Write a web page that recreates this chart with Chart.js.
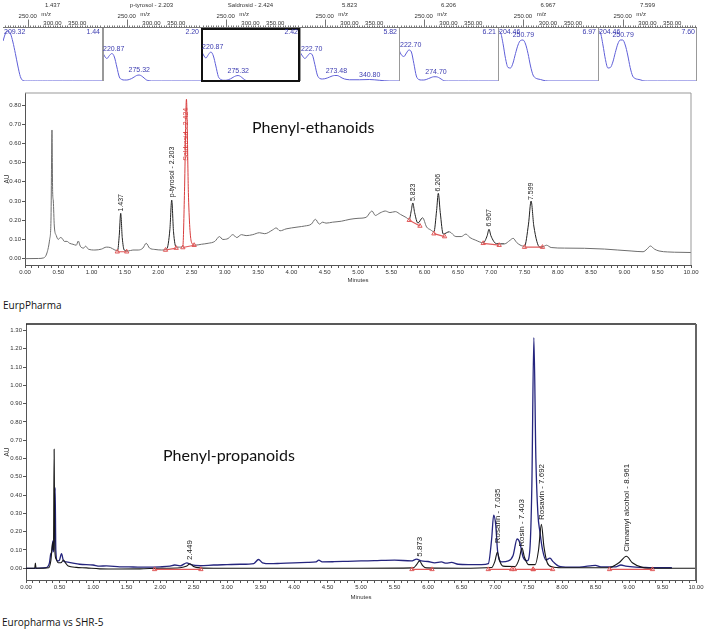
<!DOCTYPE html>
<html>
<head>
<meta charset="utf-8">
<script src="https://cdn.jsdelivr.net/npm/chart.js@4.4.1/dist/chart.umd.min.js"></script>
<style>
  body { margin: 0; background: #fff; width: 706px; height: 633px; position: relative; overflow: hidden; }
  canvas { position: absolute; }
  .txt { position: absolute; white-space: nowrap; color: #111; line-height: 1; }
  .title { font-family: Lato, "Open Sans", sans-serif; font-size: 16px; }
  .caption { font-family: "Open Sans", Lato, sans-serif; font-size: 10px; }
</style>
</head>
<body>
<canvas id="eth" width="706" height="205" style="left:0;top:85px"></canvas>
<canvas id="pro" width="706" height="290" style="left:0;top:315px"></canvas>
<div class="txt title" style="left:252px;top:119px">Phenyl-ethanoids</div>
<div class="txt caption" style="left:3px;top:300px">EurpPharma</div>
<div class="txt title" style="left:163px;top:447px">Phenyl-propanoids</div>
<div class="txt caption" style="left:2px;top:617px">Europharma vs SHR-5</div>
<script>
var narrow = '"Liberation Sans Narrow", "Liberation Sans", Arial, sans-serif';

// UV spectra strip
var specNames = ['1.437', 'p-tyrosol - 2.203', 'Saldrosid - 2.424', '5.823', '6.206', '6.967', '7.599'];
var specRt = ['1.44', '2.20', '2.42', '5.82', '6.21', '6.97', '7.60'];
var specNm = [200, 205, 210, 215, 220, 225, 230, 235, 240, 245, 250, 255, 260, 265, 270, 275, 280, 285, 290, 295, 300, 320, 340, 360, 380, 400];
var spec1 = [0.80, 0.95, 1.00, 0.95, 0.78, 0.55, 0.30, 0.09, 0.01, 0, 0, 0, 0, 0, 0, 0, 0, 0, 0, 0, 0, 0, 0, 0, 0, 0];
var spec2 = [0.60, 0.50, 0.45, 0.51, 0.55, 0.48, 0.28, 0.08, 0.03, 0.02, 0.02, 0.03, 0.05, 0.08, 0.11, 0.12, 0.10, 0.06, 0.02, 0.005, 0, 0, 0, 0, 0, 0];
var spec3 = [0.62, 0.52, 0.46, 0.53, 0.58, 0.50, 0.30, 0.09, 0.03, 0.015, 0.015, 0.025, 0.045, 0.075, 0.10, 0.11, 0.09, 0.05, 0.015, 0, 0, 0, 0, 0, 0, 0];
var spec4 = [0.58, 0.50, 0.45, 0.50, 0.55, 0.52, 0.33, 0.12, 0.05, 0.04, 0.045, 0.06, 0.08, 0.10, 0.11, 0.11, 0.09, 0.06, 0.04, 0.03, 0.025, 0.025, 0.03, 0.015, 0, 0];
var spec5 = [0.62, 0.52, 0.49, 0.56, 0.62, 0.58, 0.35, 0.10, 0.03, 0.02, 0.02, 0.03, 0.05, 0.07, 0.085, 0.085, 0.07, 0.04, 0.01, 0, 0, 0, 0, 0, 0, 0];
var spec6 = [1.00, 0.97, 0.75, 0.45, 0.27, 0.26, 0.36, 0.55, 0.72, 0.81, 0.82, 0.74, 0.55, 0.30, 0.12, 0.06, 0.04, 0.03, 0.015, 0.005, 0, 0, 0, 0, 0, 0];
var spec7 = [1.00, 0.96, 0.72, 0.43, 0.26, 0.27, 0.38, 0.57, 0.74, 0.82, 0.82, 0.72, 0.52, 0.27, 0.10, 0.05, 0.035, 0.025, 0.01, 0, 0, 0, 0, 0, 0, 0];
var specPeakNm = [[209.32], [220.87, 275.32], [220.87, 275.32], [222.70, 273.48, 340.80], [222.70, 274.70], [204.46, 250.79], [204.46, 250.79]];
var specPeakAbs = [[1.0], [0.55, 0.12], [0.58, 0.11], [0.55, 0.11, 0.03], [0.62, 0.085], [0.98, 0.82], [0.98, 0.82]];
var specTicks = [250, 300, 350];

// Phenyl-ethanoids chromatogram
var ethTime = [0.00, 0.20, 0.28, 0.33, 0.37, 0.39, 0.405, 0.415, 0.425, 0.44, 0.47, 0.50, 0.53, 0.56, 0.59, 0.63, 0.67, 0.72, 0.77, 0.80, 0.83, 0.88, 0.91, 0.95, 1.05, 1.15, 1.22, 1.28, 1.35, 1.39, 1.415, 1.437, 1.46, 1.49, 1.55, 1.62, 1.70, 1.77, 1.82, 1.87, 1.95, 2.05, 2.13, 2.175, 2.203, 2.23, 2.27, 2.32, 2.37, 2.395, 2.424, 2.455, 2.50, 2.55, 2.65, 2.75, 2.85, 2.92, 2.97, 3.05, 3.12, 3.18, 3.25, 3.32, 3.42, 3.52, 3.60, 3.72, 3.77, 3.83, 3.92, 4.00, 4.10, 4.20, 4.30, 4.36, 4.42, 4.47, 4.52, 4.62, 4.75, 4.88, 5.00, 5.12, 5.21, 5.26, 5.33, 5.41, 5.48, 5.56, 5.64, 5.72, 5.77, 5.80, 5.823, 5.85, 5.90, 5.97, 6.03, 6.09, 6.14, 6.18, 6.206, 6.235, 6.28, 6.37, 6.47, 6.55, 6.62, 6.68, 6.76, 6.88, 6.94, 6.967, 6.995, 7.08, 7.20, 7.28, 7.33, 7.38, 7.45, 7.50, 7.56, 7.599, 7.64, 7.73, 7.78, 7.83, 7.90, 8.10, 8.40, 8.70, 8.90, 9.10, 9.28, 9.34, 9.39, 9.45, 9.52, 9.65, 9.85, 10.00];
var ethAU = [0.000, 0.001, 0.004, 0.03, 0.10, 0.20, 0.67, 0.35, 0.30, 0.17, 0.12, 0.10, 0.11, 0.105, 0.09, 0.09, 0.08, 0.075, 0.07, 0.092, 0.065, 0.055, 0.065, 0.05, 0.045, 0.05, 0.06, 0.058, 0.045, 0.042, 0.12, 0.236, 0.11, 0.045, 0.04, 0.045, 0.045, 0.055, 0.08, 0.055, 0.048, 0.045, 0.052, 0.15, 0.305, 0.14, 0.06, 0.06, 0.065, 0.35, 0.83, 0.32, 0.085, 0.07, 0.075, 0.08, 0.09, 0.115, 0.10, 0.105, 0.125, 0.11, 0.125, 0.12, 0.125, 0.135, 0.13, 0.15, 0.16, 0.145, 0.155, 0.16, 0.165, 0.17, 0.18, 0.205, 0.18, 0.19, 0.185, 0.19, 0.195, 0.205, 0.21, 0.215, 0.248, 0.225, 0.238, 0.248, 0.24, 0.245, 0.23, 0.215, 0.205, 0.25, 0.29, 0.24, 0.185, 0.213, 0.165, 0.15, 0.14, 0.25, 0.34, 0.24, 0.128, 0.14, 0.115, 0.115, 0.128, 0.11, 0.097, 0.083, 0.12, 0.153, 0.12, 0.078, 0.077, 0.095, 0.106, 0.085, 0.068, 0.065, 0.18, 0.30, 0.17, 0.06, 0.062, 0.07, 0.058, 0.055, 0.054, 0.05, 0.045, 0.04, 0.036, 0.05, 0.066, 0.05, 0.04, 0.035, 0.033, 0.032];
var ethBaseStart = [1.386, 2.11, 2.37, 5.77, 6.14, 6.88, 7.50];
var ethBaseEnd = [1.527, 2.27, 2.54, 5.93, 6.30, 7.12, 7.77];
var ethBaseStartAU = [0.036, 0.045, 0.058, 0.20, 0.13, 0.08, 0.06];
var ethBaseEndAU = [0.036, 0.055, 0.07, 0.17, 0.115, 0.07, 0.06];
var ethPeakTime = [1.437, 2.203, 2.424, 5.823, 6.206, 6.967, 7.599];
var ethPeakNames = ['1.437', 'p-tyrosol - 2.203', 'Saldrosid - 2.424', '5.823', '6.206', '6.967', '7.599'];
var ethLabelAU = [0.245, 0.32, 0.51, 0.30, 0.35, 0.167, 0.305];
var ethPeakColors = ['#222', '#222', '#d83c3c', '#222', '#222', '#222', '#222'];
var ethAUTicks = [0, 0.1, 0.2, 0.3, 0.4, 0.5, 0.6, 0.7, 0.8];

// Phenyl-propanoids overlay
var shrTime = [0.00, 0.30, 0.35, 0.37, 0.385, 0.40, 0.41, 0.425, 0.435, 0.445, 0.47, 0.50, 0.53, 0.56, 0.60, 0.70, 0.80, 1.00, 1.10, 1.20, 1.40, 1.60, 1.80, 2.00, 2.15, 2.22, 2.30, 2.40, 2.46, 2.60, 2.80, 3.00, 3.20, 3.40, 3.47, 3.53, 3.65, 3.80, 4.00, 4.20, 4.33, 4.37, 4.42, 4.60, 4.80, 5.00, 5.20, 5.50, 5.75, 5.83, 5.90, 6.00, 6.10, 6.20, 6.27, 6.35, 6.45, 6.60, 6.80, 6.90, 6.95, 6.98, 7.01, 7.04, 7.10, 7.20, 7.27, 7.33, 7.37, 7.42, 7.48, 7.52, 7.55, 7.58, 7.61, 7.64, 7.67, 7.71, 7.76, 7.82, 7.87, 7.95, 8.10, 8.30, 8.45, 8.50, 8.58, 8.80, 8.88, 8.95, 9.10, 9.30, 9.50, 9.64];
var shrAU = [0.000, 0.004, 0.03, 0.08, 0.09, 0.15, 0.09, 0.20, 0.44, 0.10, 0.04, 0.045, 0.08, 0.04, 0.035, 0.028, 0.022, 0.018, 0.012, 0.013, 0.008, 0.007, 0.006, 0.008, 0.012, 0.018, 0.013, 0.03, 0.02, 0.014, 0.018, 0.02, 0.022, 0.026, 0.048, 0.03, 0.025, 0.027, 0.03, 0.032, 0.035, 0.045, 0.035, 0.036, 0.038, 0.04, 0.042, 0.045, 0.04, 0.05, 0.04, 0.037, 0.03, 0.035, 0.028, 0.032, 0.022, 0.02, 0.02, 0.025, 0.16, 0.29, 0.24, 0.09, 0.035, 0.04, 0.07, 0.16, 0.14, 0.06, 0.04, 0.10, 0.45, 1.26, 0.60, 0.30, 0.20, 0.10, 0.045, 0.055, 0.035, 0.012, 0.006, 0.008, 0.015, 0.016, 0.008, 0.008, 0.018, 0.012, 0.006, 0.004, 0.003, 0.003];
var eurTime = [0.00, 0.13, 0.14, 0.15, 0.34, 0.37, 0.40, 0.41, 0.42, 0.43, 0.45, 0.48, 0.52, 0.56, 0.59, 0.63, 0.75, 0.90, 1.10, 1.40, 1.70, 2.00, 2.30, 2.40, 2.449, 2.50, 2.60, 2.80, 3.00, 4.00, 5.00, 5.78, 5.83, 5.873, 5.92, 5.98, 6.50, 6.95, 7.00, 7.035, 7.07, 7.12, 7.30, 7.36, 7.403, 7.44, 7.50, 7.60, 7.65, 7.692, 7.73, 7.78, 7.85, 8.00, 8.70, 8.85, 8.961, 9.05, 9.20, 9.40, 10.00];
var eurAU = [0.000, 0.000, 0.028, 0.000, 0.003, 0.04, 0.14, 0.10, 0.65, 0.10, 0.05, 0.03, 0.03, 0.045, 0.03, 0.012, 0.005, 0.002, -0.003, -0.004, -0.003, 0.000, 0.003, 0.012, 0.025, 0.01, 0.002, 0.0, 0.0, 0.0, 0.0, 0.002, 0.02, 0.04, 0.015, 0.002, 0.0, 0.004, 0.04, 0.088, 0.04, 0.012, 0.01, 0.05, 0.11, 0.06, 0.02, 0.02, 0.10, 0.24, 0.12, 0.03, 0.008, 0.003, 0.003, 0.03, 0.066, 0.03, 0.005, 0.0, 0.0];
var eurBaseStart = [1.92, 5.76, 6.90, 7.29, 7.57, 8.71];
var eurBaseEnd = [2.61, 6.06, 7.25, 7.57, 7.86, 9.35];
var eurBaseAU = [-0.006, -0.006, -0.006, -0.006, -0.006, -0.006];
var eurPeakTime = [2.449, 5.873, 7.035, 7.403, 7.692, 8.961];
var eurPeakNames = ['2.449', '5.873', 'Rosarin - 7.035', 'Rosin - 7.403', 'Rosavin - 7.692', 'Cinnamyl alcohol - 8.961'];
var eurLabelAU = [0.045, 0.063, 0.137, 0.118, 0.264, 0.09];
var eurPeakColors = ['#222', '#222', '#222', '#222', '#222', '#222'];
var proAUTicks = [0, 0.1, 0.2, 0.3, 0.4, 0.5, 0.6, 0.7, 0.8, 0.9, 1.0, 1.1, 1.2, 1.3];

var minuteLabels = [0, 0.5, 1, 1.5, 2, 2.5, 3, 3.5, 4, 4.5, 5, 5.5, 6, 6.5, 7, 7.5, 8, 8.5, 9, 9.5, 10];

var panelEdges = [3, 102, 201, 300, 399, 498, 598, 697];
var specSeries = [spec1, spec2, spec3, spec4, spec5, spec6, spec7];

function specDeco(i) {
  return {
    id: 'specDeco',
    afterDraw: function (chart) {
      var ctx = chart.ctx, a = chart.chartArea, sx = chart.scales.x, sy = chart.scales.y;
      ctx.save();
      ctx.fillStyle = '#333';
      ctx.font = '6px ' + narrow;
      ctx.textAlign = 'center';
      ctx.textBaseline = 'middle';
      ctx.fillText(specNames[i], (a.left + a.right) / 2, 5);
      ctx.fillText('250.00', sx.getPixelForValue(specTicks[0]), 16);
      ctx.fillText('m/z', sx.getPixelForValue(287), 14.5);
      ctx.fillText('300.00', sx.getPixelForValue(specTicks[1]), 23);
      ctx.fillText('350.00', sx.getPixelForValue(specTicks[2]), 23);

      ctx.strokeStyle = '#777';
      ctx.lineWidth = 1;
      ctx.beginPath();
      ctx.moveTo(a.left, 27.5);
      ctx.lineTo(a.right, 27.5);
      for (var nm = 205; nm < 400; nm += 5) {
        var px = Math.round(sx.getPixelForValue(nm)) + 0.5;
        ctx.moveTo(px, 27.5);
        ctx.lineTo(px, 25.5);
      }
      var p250 = Math.round(sx.getPixelForValue(specTicks[0])) + 0.5;
      ctx.moveTo(p250, 19.5);
      ctx.lineTo(p250, 27.5);
      ctx.stroke();

      if (i > 0) {
        ctx.strokeStyle = '#999';
        ctx.lineWidth = i == 1 ? 2 : 1;
        ctx.beginPath();
        ctx.moveTo(i == 1 ? 1 : 0.5, 28);
        ctx.lineTo(i == 1 ? 1 : 0.5, a.bottom);
        ctx.stroke();
      }
      if (i == 6) {
        ctx.strokeStyle = '#999';
        ctx.lineWidth = 1;
        ctx.beginPath();
        ctx.moveTo(a.right - 0.5, 28);
        ctx.lineTo(a.right - 0.5, a.bottom);
        ctx.stroke();
      }
      if (i == 2) {
        ctx.strokeStyle = '#111';
        ctx.lineWidth = 2;
        ctx.strokeRect(1, 29, a.right - 2, a.bottom - 29);
      }

      ctx.font = '7px ' + narrow;
      ctx.fillStyle = '#3c3cb0';
      ctx.textAlign = 'right';
      ctx.textBaseline = 'top';
      ctx.fillText(specRt[i], a.right - 2, a.top + 1);

      ctx.textAlign = 'center';
      ctx.textBaseline = 'bottom';
      specPeakNm[i].forEach(function (nm, k) {
        var label = nm.toFixed(2);
        var w = ctx.measureText(label).width;
        var px = sx.getPixelForValue(nm);
        var py = sy.getPixelForValue(specPeakAbs[i][k]);
        px = Math.max(a.left + w / 2 + 1, Math.min(a.right - w / 2 - 1, px));
        py = Math.max(a.top + 8, py - 1);
        ctx.fillText(label, px, py);
      });
      ctx.restore();
    }
  };
}

function specChart(i) {
  var cv = document.createElement('canvas');
  cv.width = panelEdges[i + 1] - panelEdges[i];
  cv.height = 84;
  cv.style.left = panelEdges[i] + 'px';
  cv.style.top = '0px';
  document.body.appendChild(cv);
  new Chart(cv.getContext('2d'), {
    type: 'line',
    data: {
      datasets: [{
        data: specNm.map((nm, k) => ({x: nm, y: specSeries[i][k]})),
        borderColor: '#5f5fd8',
        borderWidth: 1,
        pointRadius: 0,
        cubicInterpolationMode: 'monotone'
      }]
    },
    options: {
      responsive: false,
      animation: false,
      devicePixelRatio: 1,
      layout: {padding: {top: 28, bottom: 3, left: 0, right: 0}},
      plugins: {legend: {display: false}, tooltip: {enabled: false}},
      scales: {
        x: {type: 'linear', min: 200, max: 400, display: false},
        y: {min: 0, max: 1.06, display: false}
      }
    },
    plugins: [specDeco(i)]
  });
}

function minuteAxis(height, titlePad) {
  return {
    type: 'linear',
    min: 0,
    max: 10,
    afterBuildTicks: function (s) {
      var t = [];
      for (var k = 0; k <= 100; k++) t.push({value: k / 10});
      s.ticks = t;
    },
    afterFit: function (s) { s.height = height; },
    grid: {drawOnChartArea: false, tickLength: 3, color: '#555'},
    border: {color: '#555', dash: [1, 1]},
    ticks: {
      autoSkip: false, maxRotation: 0, minRotation: 0, padding: 1,
      color: '#333', font: {size: 6, family: narrow},
      callback: function (v) {
        return minuteLabels.indexOf(Math.round(v * 100) / 100) >= 0 ? v.toFixed(2) : '';
      }
    },
    title: {display: true, text: 'Minutes', color: '#333', font: {size: 6, family: narrow}, padding: {top: 0, bottom: titlePad}}
  };
}

function auAxis(min, max, ticks, width) {
  return {
    min: min,
    max: max,
    afterBuildTicks: function (s) { s.ticks = ticks.map(v => ({value: v})); },
    afterFit: function (s) { s.width = width; },
    grid: {drawOnChartArea: false, tickLength: 3, color: '#555'},
    border: {color: '#555', dash: [1, 1]},
    ticks: {padding: 1, color: '#333', font: {size: 6, family: narrow}, callback: v => v.toFixed(2)},
    title: {display: true, text: 'AU', color: '#333', font: {size: 6.5, family: narrow}, padding: {top: 3, bottom: 0}}
  };
}

function markerData(starts, ends, startAU, endAU) {
  var d = [];
  starts.forEach((s, k) => {
    d.push({x: s, y: startAU[k]}, {x: ends[k], y: endAU[k]}, {x: ends[k], y: null});
  });
  return d;
}

function markerSet(data) {
  return {
    data: data,
    borderColor: '#e05a5a',
    borderWidth: 1.2,
    pointStyle: 'triangle',
    pointRadius: 2.5,
    pointBorderWidth: 1,
    pointBorderColor: '#e05a5a',
    pointBackgroundColor: 'rgba(0,0,0,0)',
    spanGaps: false
  };
}

function peakLabels(times, names, bases, colors, size) {
  return {
    id: 'peakLabels',
    afterDatasetsDraw: function (chart) {
      var ctx = chart.ctx, sx = chart.scales.x, sy = chart.scales.y;
      ctx.save();
      ctx.font = size + 'px ' + narrow;
      ctx.textAlign = 'left';
      ctx.textBaseline = 'middle';
      times.forEach(function (t, k) {
        ctx.save();
        ctx.translate(sx.getPixelForValue(t), sy.getPixelForValue(bases[k]));
        ctx.rotate(-Math.PI / 2);
        ctx.fillStyle = colors[k];
        ctx.fillText(names[k], 0, 0);
        ctx.restore();
      });
      ctx.restore();
    }
  };
}

function frame(topColor, topWidth, rightColor, rightWidth) {
  return {
    id: 'frame',
    afterDraw: function (chart) {
      var ctx = chart.ctx, a = chart.chartArea;
      ctx.save();
      ctx.strokeStyle = topColor;
      ctx.lineWidth = topWidth;
      ctx.beginPath();
      ctx.moveTo(a.left, a.top);
      ctx.lineTo(a.right, a.top);
      ctx.stroke();
      ctx.strokeStyle = rightColor;
      ctx.lineWidth = rightWidth;
      ctx.beginPath();
      ctx.moveTo(a.right, a.top);
      ctx.lineTo(a.right, a.bottom);
      ctx.stroke();
      ctx.restore();
    }
  };
}

function ethSegmentColor(c) {
  var t = c.p0.parsed.x;
  for (var k = 0; k < ethBaseStart.length; k++) {
    if (t >= ethBaseStart[k] && t < ethBaseEnd[k]) return ethPeakColors[k];
  }
  return '#6e6e6e';
}

for (var i = 0; i < 7; i++) specChart(i);

new Chart(document.getElementById('eth').getContext('2d'), {
  type: 'line',
  data: {
    datasets: [
      markerSet(markerData(ethBaseStart, ethBaseEnd, ethBaseStartAU, ethBaseEndAU)),
      {
        data: ethTime.map((t, k) => ({x: t, y: ethAU[k]})),
        borderColor: '#6e6e6e',
        borderWidth: 1,
        pointRadius: 0,
        cubicInterpolationMode: 'monotone',
        segment: {borderColor: ethSegmentColor}
      }
    ]
  },
  options: {
    responsive: false,
    animation: false,
    devicePixelRatio: 1,
    layout: {padding: {top: 8, right: 15, left: 0, bottom: 0}},
    plugins: {legend: {display: false}, tooltip: {enabled: false}},
    scales: {
      x: minuteAxis(25, 6),
      y: auAxis(-0.033, 0.8625, ethAUTicks, 25)
    }
  },
  plugins: [frame('#999', 1, '#999', 1), peakLabels(ethPeakTime, ethPeakNames, ethLabelAU, ethPeakColors, 7)]
});

new Chart(document.getElementById('pro').getContext('2d'), {
  type: 'line',
  data: {
    datasets: [
      markerSet(markerData(eurBaseStart, eurBaseEnd, eurBaseAU, eurBaseAU)),
      {
        data: eurTime.map((t, k) => ({x: t, y: eurAU[k]})),
        borderColor: '#151515',
        borderWidth: 1.1,
        pointRadius: 0,
        cubicInterpolationMode: 'monotone'
      },
      {
        data: shrTime.map((t, k) => ({x: t, y: shrAU[k]})),
        borderColor: '#25257e',
        borderWidth: 1.3,
        pointRadius: 0,
        cubicInterpolationMode: 'monotone'
      }
    ]
  },
  options: {
    responsive: false,
    animation: false,
    devicePixelRatio: 1,
    layout: {padding: {top: 9, right: 10, left: 0, bottom: 0}},
    plugins: {legend: {display: false}, tooltip: {enabled: false}},
    scales: {
      x: minuteAxis(25, 4),
      y: auAxis(-0.064, 1.335, proAUTicks, 26)
    }
  },
  plugins: [frame('#222', 1.5, '#666', 2), peakLabels(eurPeakTime, eurPeakNames, eurLabelAU, eurPeakColors, 8)]
});
</script>
</body>
</html>
